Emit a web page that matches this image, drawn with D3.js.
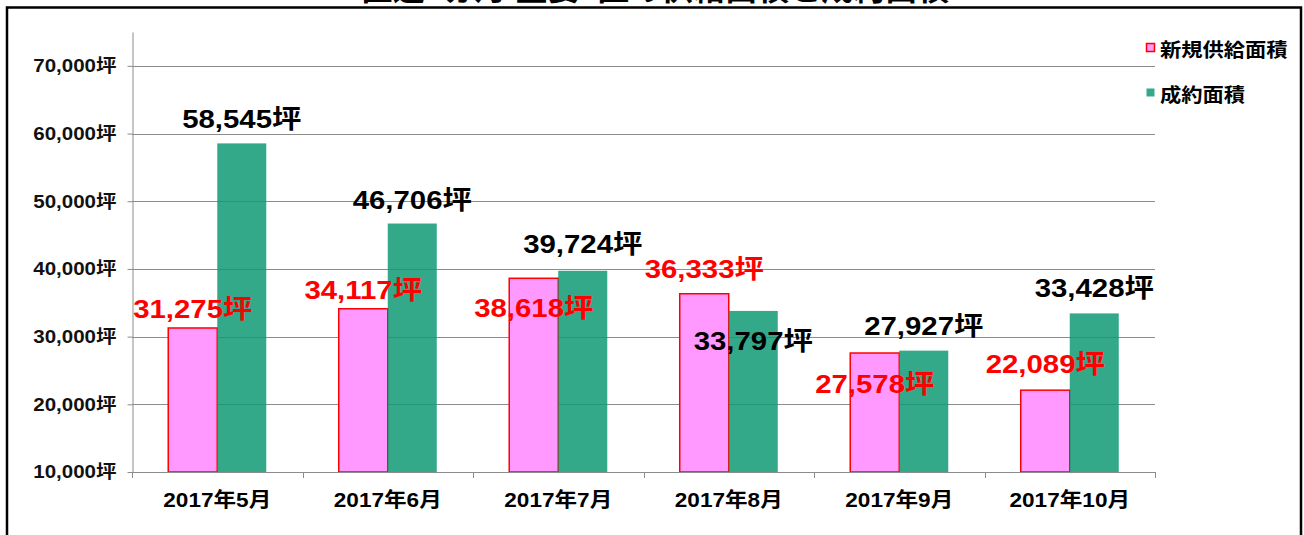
<!DOCTYPE html>
<html>
<head>
<meta charset="utf-8">
<script src="https://cdn.jsdelivr.net/npm/d3@7"></script>
<style>
  body { margin: 0; background: #fff; }
  svg { display: block; }
  text { font-family: "Liberation Sans", "Noto Sans CJK JP", sans-serif; font-weight: bold; }
</style>
</head>
<body>
<div id="chart"></div>
<script>
// Chart data
const months = ["2017年5月", "2017年6月", "2017年7月", "2017年8月", "2017年9月", "2017年10月"];
const supply = [31275, 34117, 38618, 36333, 27578, 22089];      // 新規供給面積
const contract = [58545, 46706, 39724, 33797, 27927, 33428];    // 成約面積
const yTicks = [10000, 20000, 30000, 40000, 50000, 60000, 70000];
const seriesNames = ["新規供給面積", "成約面積"];
const titleText = "直近6ヵ月 主要5区の供給面積と成約面積";

// label baseline offset from bar top (labels were moved by hand in the original)
const supplyLabelDy = [-10, -10, 39, -16, 40, -17];
const contractLabelDy = [-15, -15, -18, 39, -16, -16];

const W = 1304, H = 535;
const plot = { left: 132, right: 1155, top: 32, bottom: 472 };
const stretch = 1.13;   // original text looks slightly widened

const svg = d3.select("#chart")
    .append("svg")
    .attr("width", W)
    .attr("height", H);

// outer frame
svg.append("rect")
    .attr("x", 7).attr("y", 7.5)
    .attr("width", 1294).attr("height", 700)
    .attr("fill", "none")
    .attr("stroke", "#000")
    .attr("stroke-width", 2.5);

// title, cut off at the top as in the original
svg.append("text")
    .attr("x", 655).attr("y", 0)
    .attr("text-anchor", "middle")
    .attr("font-size", 32)
    .attr("fill", "#000")
    .text(titleText);

// scales
const x0 = d3.scaleBand()
    .domain(months)
    .range([plot.left, plot.right])
    .paddingInner(0.425)
    .paddingOuter(0.2125);
const x1 = d3.scaleBand()
    .domain(seriesNames)
    .range([0, x0.bandwidth()]);
const y = d3.scaleLinear()
    .domain([10000, 75000])
    .range([plot.bottom, plot.top]);

// gridlines
svg.append("g")
    .selectAll("line")
    .data(yTicks)
    .join("line")
    .attr("x1", plot.left).attr("x2", plot.right)
    .attr("y1", d => Math.round(y(d)) + 0.5).attr("y2", d => Math.round(y(d)) + 0.5)
    .attr("stroke", "#8c8c8c");

// y axis
const yAxis = svg.append("g")
    .attr("transform", `translate(${plot.left + 0.5},0)`)
    .call(d3.axisLeft(y).tickValues(yTicks).tickSize(5).tickSizeOuter(0)
        .tickFormat(d => d3.format(",")(d) + "坪"));
yAxis.select(".domain").attr("stroke", "#8c8c8c");
yAxis.selectAll(".tick line").attr("stroke", "#8c8c8c");
yAxis.selectAll(".tick text")
    .attr("x", 0)
    .attr("dy", "0.32em")
    .attr("transform", `translate(-16,0) scale(${stretch + 0.01},1)`)
    .attr("font-size", 18)
    .attr("font-family", null)
    .attr("fill", "#111");

// bars
const groups = svg.append("g")
    .selectAll("g")
    .data(months.map((m, i) => ({ m, i })))
    .join("g")
    .attr("transform", d => `translate(${x0(d.m)},0)`);

groups.append("rect")
    .attr("x", x1(seriesNames[0]))
    .attr("y", d => y(supply[d.i]))
    .attr("width", x1.bandwidth())
    .attr("height", d => y(10000) - y(supply[d.i]))
    .attr("fill", "#ff99ff")
    .attr("stroke", "#ff0000")
    .attr("stroke-width", 1.5);

groups.append("rect")
    .attr("x", x1(seriesNames[1]))
    .attr("y", d => y(contract[d.i]))
    .attr("width", x1.bandwidth())
    .attr("height", d => y(10000) - y(contract[d.i]))
    .attr("fill", "#109a75")
    .attr("fill-opacity", 0.85);

// x axis line and boundary ticks
svg.append("line")
    .attr("x1", plot.left).attr("x2", plot.right)
    .attr("y1", plot.bottom + 0.5).attr("y2", plot.bottom + 0.5)
    .attr("stroke", "#8c8c8c");
const step = x0.step();
svg.append("g")
    .selectAll("line")
    .data(d3.range(months.length + 1))
    .join("line")
    .attr("x1", i => Math.round(plot.left + i * step) + 0.5)
    .attr("x2", i => Math.round(plot.left + i * step) + 0.5)
    .attr("y1", plot.bottom).attr("y2", plot.bottom + 6)
    .attr("stroke", "#8c8c8c");

// month labels
svg.append("g")
    .selectAll("text")
    .data(months)
    .join("text")
    .attr("transform", d => `translate(${x0(d) + x0.bandwidth() / 2},506.5) scale(${stretch},1)`)
    .attr("text-anchor", "middle")
    .attr("font-size", 20)
    .attr("fill", "#000")
    .text(d => d);

// value labels
const fmt = d => d3.format(",")(d) + "坪";
groups.append("text")
    .attr("transform", d => `translate(${x1(seriesNames[0]) + x1.bandwidth() / 2},${y(supply[d.i]) + supplyLabelDy[d.i]}) scale(${stretch},1)`)
    .attr("text-anchor", "middle")
    .attr("font-size", 26)
    .attr("fill", "#ff0000")
    .text(d => fmt(supply[d.i]));

groups.append("text")
    .attr("transform", d => `translate(${x1(seriesNames[1]) + x1.bandwidth() / 2},${y(contract[d.i]) + contractLabelDy[d.i]}) scale(${stretch},1)`)
    .attr("text-anchor", "middle")
    .attr("font-size", 26)
    .attr("fill", "#000")
    .text(d => fmt(contract[d.i]));

// legend
const legend = svg.append("g");
const legendItems = [
    { name: seriesNames[0], fill: "#ff99ff", stroke: "#ff0000", y: 43 },
    { name: seriesNames[1], fill: "#34a98a", stroke: "none", y: 88 }
];
legendItems.forEach(d => {
    legend.append("rect")
        .attr("x", 1146.5).attr("y", d.y + 0.5)
        .attr("width", 8).attr("height", 8)
        .attr("fill", d.fill)
        .attr("stroke", d.stroke)
        .attr("stroke-width", 1.5);
    legend.append("text")
        .attr("transform", `translate(1160,${d.y + 14}) scale(1.12,1)`)
        .attr("font-size", 19)
        .attr("fill", "#000")
        .text(d.name);
});
</script>
</body>
</html>
